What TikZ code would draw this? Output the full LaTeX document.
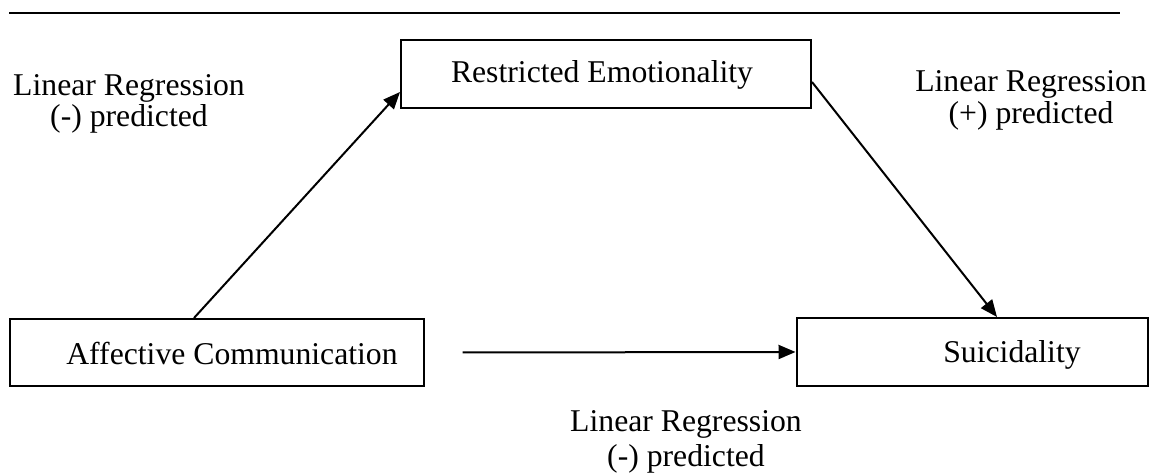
\documentclass[tikz,border=0pt]{standalone}
\usepackage{fontspec}
\setmainfont{Liberation Serif}
\usepackage{tikz}
\usetikzlibrary{arrows.meta}

\begin{document}
\begin{tikzpicture}[x=0.5pt, y=-0.5pt,
    box/.style={draw=black, line width=1pt, inner sep=0pt},
    maintxt/.style={font=\fontsize{15.85}{19}\selectfont, anchor=base},
    lbl/.style={font=\fontsize{15.85}{15.5}\selectfont, align=center, anchor=base},
    path/.style={line width=1pt, -{Triangle[length=8.5pt, width=7pt]}}]
                        \useasboundingbox (0,0) rectangle (1162,474);
                        \draw[line width=1pt] (9,13) -- (1120,13);
                        % boxes
                        \node[box, minimum width=205pt, minimum height=34pt] (restr) at (606,74) {};
                        \node[box, minimum width=207pt, minimum height=33.5pt] (affect) at (216.5,352.5) {};
                        \node[box, minimum width=175.5pt, minimum height=34pt] (suic) at (972,352) {};
                        \node[maintxt] (restrtxt) at (602,83) {Restricted Emotionality};
                        \node[maintxt] (affecttxt) at (232,365) {Affective Communication};
                        \node[maintxt] (suictxt) at (1012,363) {Suicidality};
                        % paths
                        \draw[path] ([xshift=-11.25pt]affect.north) -- ([yshift=-9pt]restr.west);
                        \draw[path] ([yshift=-4pt]restr.east) -- ([xshift=12.5pt]suic.north);
                        \draw[path] ([xshift=19pt]affect.east) -- (suic.west);
                        % labels
                        \node[lbl] (lblleft) at (129,127) {Linear Regression\\(-) predicted};
                        \node[lbl] (lblright) at (1031,124) {Linear Regression\\[0.5pt](+) predicted};
                        \node[lbl] (lblbottom) at (686,467) {Linear Regression\\[2pt](-) predicted};
\end{tikzpicture}
\end{document}
